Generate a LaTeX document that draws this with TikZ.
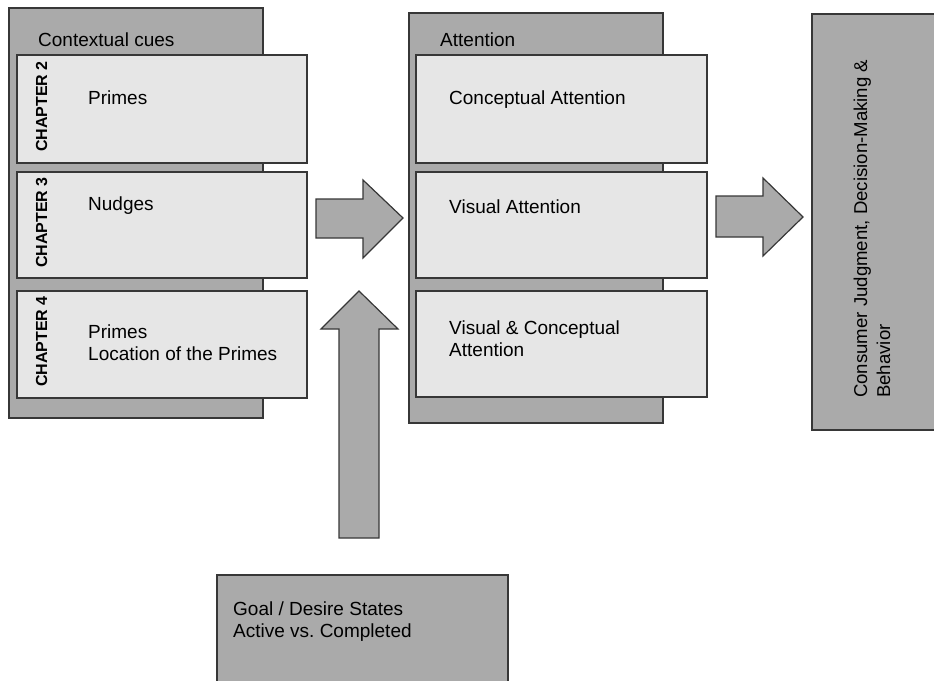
\documentclass[tikz,border=0pt]{standalone}
\usepackage{fontspec}
\setmainfont{Liberation Sans}
\frenchspacing
\definecolor{outergray}{RGB}{170,170,170}
\definecolor{innergray}{RGB}{230,230,230}
\definecolor{edgegray}{RGB}{55,55,55}
\begin{document}
\begin{tikzpicture}[x=1pt,y=-1pt,
  outerbox/.style={draw=edgegray,fill=outergray,line width=1.2pt},
  innerbox/.style={draw=edgegray,fill=innergray,line width=1.2pt},
  blockarrow/.style={draw=edgegray,fill=outergray,line width=1.2pt,line join=miter},
  txt/.style={anchor=base west,inner sep=0pt,font=\fontsize{19}{22}\selectfont},
  chap/.style={anchor=base west,inner sep=0pt,rotate=90,font=\fontsize{16}{19}\selectfont\bfseries}]
\useasboundingbox (0,0) rectangle (934,680);
% left group
\draw[outerbox] (9,8) rectangle (263,418);
\node[txt] (ctx) at (38,46) {Contextual cues};
\draw[innerbox] (17,55) rectangle (307,163);
\draw[innerbox] (17,172) rectangle (307,278);
\draw[innerbox] (17,291) rectangle (307,398);
\node[chap] (ch2) at (47,152) {CHAPTER 2};
\node[chap] (ch3) at (47,268) {CHAPTER 3};
\node[chap] (ch4) at (47,387) {CHAPTER 4};
\node[txt] (primes) at (88,104) {Primes};
\node[txt] (nudges) at (88,210) {Nudges};
\node[txt] (primesb) at (88,338) {Primes};
\node[txt] (location) at (88,360) {Location of the Primes};
% attention group
\draw[outerbox] (409,13) rectangle (663,423);
\node[txt] (att) at (440,46) {Attention};
\draw[innerbox] (416,55) rectangle (707,163);
\draw[innerbox] (416,172) rectangle (707,278);
\draw[innerbox] (416,291) rectangle (707,397);
\node[txt] (conc) at (449,104) {Conceptual Attention};
\node[txt] (vis) at (449,213) {Visual Attention};
\node[txt] (visc) at (449,334) {Visual \& Conceptual};
\node[txt] (viscb) at (449,356) {Attention};
% consumer box
\draw[outerbox] (812,14) rectangle (940,430);
\node[txt,rotate=90,font=\fontsize{18.6}{22}\selectfont] (cons) at (867,398) {Consumer Judgment, Decision-Making \&};
\node[txt,rotate=90,font=\fontsize{18.6}{22}\selectfont] (consb) at (890,398) {Behavior};
% goal box
\draw[outerbox] (217,575) rectangle (508,690);
\node[txt] (goal) at (233,615) {Goal / Desire States};
\node[txt] (goalb) at (233,637) {Active vs. Completed};
% arrows
\draw[blockarrow] (316,199) -- (363,199) -- (363,180) -- (403,218) -- (363,258) -- (363,238) -- (316,238) -- cycle;
\draw[blockarrow] (716,196) -- (763,196) -- (763,178) -- (803,217) -- (763,256) -- (763,237) -- (716,237) -- cycle;
\draw[blockarrow] (339,538) -- (339,329) -- (321,329) -- (359,291) -- (398,329) -- (379,329) -- (379,538) -- cycle;
\end{tikzpicture}
\end{document}
